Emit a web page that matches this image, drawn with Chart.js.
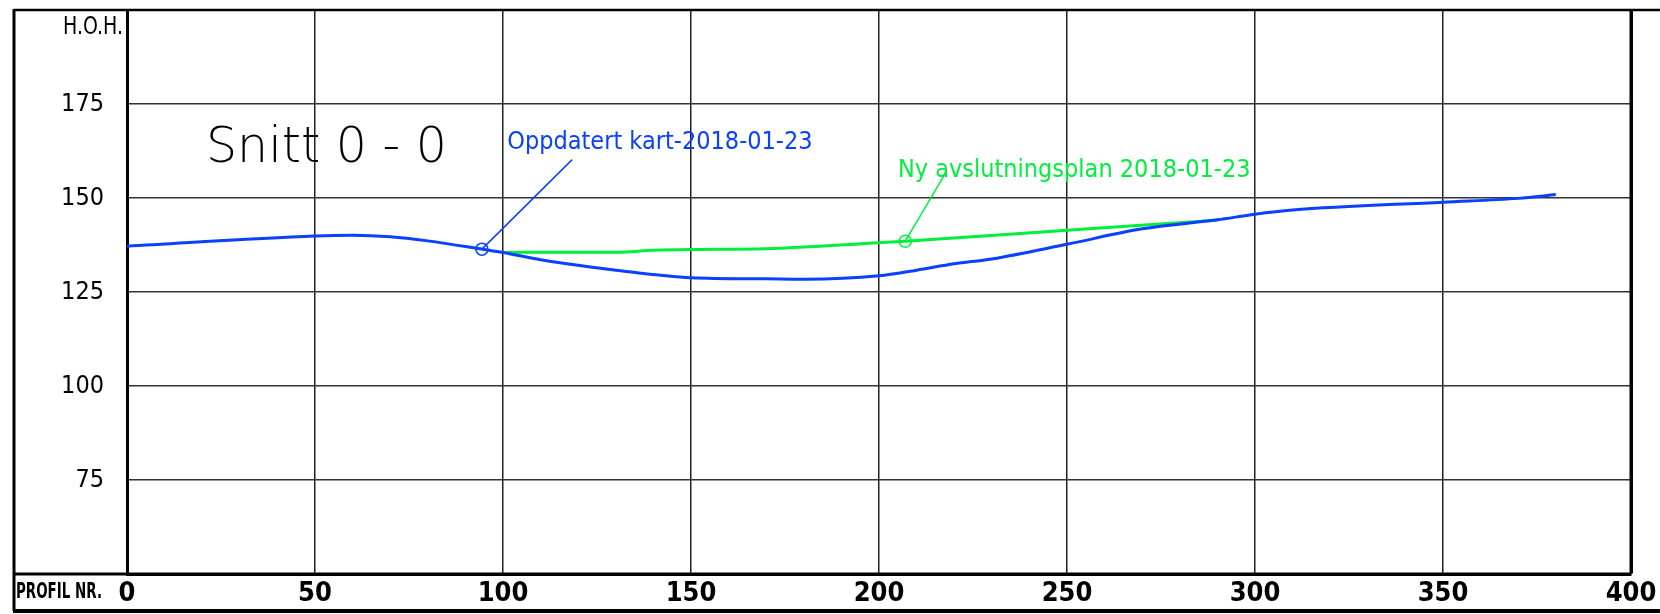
<!DOCTYPE html>
<html>
<head>
<meta charset="utf-8">
<title>Snitt 0 - 0</title>
<script src="https://cdn.jsdelivr.net/npm/chart.js@4.4.1/dist/chart.umd.min.js"></script>
<style>
  html, body { margin: 0; padding: 0; background: #fff; }
  canvas { display: block; }
</style>
</head>
<body>
<canvas id="profileChart" width="1660" height="614"></canvas>
<script>
// Terrain profile, "Oppdatert kart" (station in m, height in moh)
const kartStations = [0, 50, 60, 70, 80, 95, 100, 110, 117, 130, 150, 170, 180, 200, 210, 220, 230, 250, 270, 290, 300, 310, 350, 370, 380];
const kartHeights = [137.2, 139.9, 140.1, 139.7, 138.6, 136.3, 135.5, 133.6, 132.5, 130.8, 128.8, 128.5, 128.4, 129.3, 130.8, 132.5, 133.8, 137.7, 141.8, 144.2, 145.7, 146.8, 148.9, 149.9, 150.9];

// "Ny avslutningsplan"
const planStations = [100, 117, 130, 140, 150, 170, 200, 207, 250, 290];
const planHeights = [135.5, 135.6, 135.6, 136.1, 136.3, 136.5, 138.1, 138.5, 141.4, 144.1];

// tick labels
const xTickValues = [0, 50, 100, 150, 200, 250, 300, 350, 400];
const yTickValues = [75, 100, 125, 150, 175];

// callouts: circle on the line, leader end, label
const calloutLabels = ['Oppdatert kart-2018-01-23', 'Ny avslutningsplan 2018-01-23'];
const calloutPointX = [94.4, 207];
const calloutPointY = [136.4, 138.5];
const calloutEndX = [118.4, 217.8];
const calloutEndY = [160.2, 156.8];

const BLUE = '#0a40ff';
const GREEN = '#00ee3c';
const calloutColors = [BLUE, GREEN];
const calloutTextOffset = [[-65, -11], [-48, 5]];

const COND = '"DejaVu Sans Condensed", "Liberation Sans Narrow", sans-serif';

function xy(xs, ys) {
    return xs.map((x, i) => ({ x: x, y: ys[i] }));
}

const leaderSets = calloutLabels.map((label, i) => ({
    label: label,
    data: [{ x: calloutPointX[i], y: calloutPointY[i] }, { x: calloutEndX[i], y: calloutEndY[i] }],
    borderColor: calloutColors[i],
    borderWidth: 1.5,
    pointRadius: [6, 0],
    pointBackgroundColor: 'rgba(0,0,0,0)',
    pointBorderColor: calloutColors[i],
    pointBorderWidth: 1.5,
    tension: 0
}));

// frame, title and callout texts
const drawingFrame = {
    id: 'drawingFrame',
    afterDraw(chart) {
        const c = chart.ctx;
        const a = chart.chartArea;
        const W = chart.width;
        const H = chart.height;
        c.save();
        c.strokeStyle = '#000';
        c.lineCap = 'butt';

        c.lineWidth = 2.5;
        c.beginPath(); c.moveTo(14, a.top); c.lineTo(W, a.top); c.stroke();
        c.lineWidth = 3;
        c.beginPath(); c.moveTo(14, a.top - 1); c.lineTo(14, H - 3); c.stroke();
        c.beginPath(); c.moveTo(14, a.bottom); c.lineTo(a.right, a.bottom); c.stroke();
        c.beginPath(); c.moveTo(a.right, a.top); c.lineTo(a.right, a.bottom); c.stroke();
        c.lineWidth = 4;
        c.beginPath(); c.moveTo(13, H - 3); c.lineTo(W, H - 3); c.stroke();

        c.fillStyle = '#000';
        c.textBaseline = 'middle';
        c.textAlign = 'left';
        c.font = 'bold 21px ' + COND;
        c.fillText('PROFIL NR.', 16, a.bottom + 19, 86);

        c.textAlign = 'right';
        c.font = '25px ' + COND;
        c.fillText('H.O.H.', a.left - 4, a.top + 17, 60);

        c.textBaseline = 'alphabetic';
        c.textAlign = 'left';
        c.font = '200 49px "DejaVu Sans", sans-serif';
        c.fillText('Snitt 0 - 0', a.left + 79, a.top + 152);

        const xs = chart.scales.x;
        const ys = chart.scales.y;
        c.font = '25px ' + COND;
        calloutLabels.forEach((label, i) => {
            c.fillStyle = calloutColors[i];
            const px = xs.getPixelForValue(calloutEndX[i]) + calloutTextOffset[i][0];
            const py = ys.getPixelForValue(calloutEndY[i]) + calloutTextOffset[i][1];
            c.fillText(label, px, py);
        });
        c.restore();
    }
};

function initProfileChart() {
    const ctx = document.getElementById('profileChart');
    new Chart(ctx, {
        type: 'line',
        data: {
            datasets: [{
                label: 'Oppdatert kart',
                data: xy(kartStations, kartHeights),
                borderColor: BLUE,
                borderWidth: 3,
                pointRadius: 0,
                cubicInterpolationMode: 'monotone'
            }, {
                label: 'Ny avslutningsplan',
                data: xy(planStations, planHeights),
                borderColor: GREEN,
                borderWidth: 3,
                pointRadius: 0,
                cubicInterpolationMode: 'monotone'
            }].concat(leaderSets)
        },
        options: {
            responsive: false,
            animation: false,
            events: [],
            layout: { padding: { left: 0, top: 10, right: 29, bottom: 0 } },
            plugins: {
                legend: { display: false },
                tooltip: { enabled: false }
            },
            scales: {
                x: {
                    type: 'linear',
                    min: 0,
                    max: 400,
                    afterBuildTicks: s => { s.ticks = xTickValues.map(v => ({ value: v })); },
                    afterFit: s => { s.height = 40; s.paddingLeft = 0; s.paddingRight = 0; },
                    grid: {
                        drawTicks: false,
                        color: ctx => ctx.tick && ctx.tick.value === 400 ? '#000' : '#222',
                        lineWidth: ctx => ctx.tick && ctx.tick.value === 400 ? 3 : 1.5
                    },
                    border: { color: '#000', width: 3 },
                    ticks: {
                        padding: 4,
                        color: '#000',
                        maxRotation: 0,
                        font: { family: COND, size: 27, weight: 'bold' }
                    }
                },
                y: {
                    min: 50,
                    max: 200,
                    afterBuildTicks: s => { s.ticks = yTickValues.map(v => ({ value: v })); },
                    afterFit: s => { s.width = 127; s.paddingTop = 0; s.paddingBottom = 0; },
                    grid: { drawTicks: false, color: '#333', lineWidth: 1.5 },
                    border: { color: '#000', width: 3 },
                    ticks: {
                        padding: 23,
                        color: '#000',
                        font: { family: COND, size: 25 }
                    }
                }
            }
        },
        plugins: [drawingFrame]
    });
}

document.addEventListener('DOMContentLoaded', initProfileChart);
</script>
</body>
</html>
